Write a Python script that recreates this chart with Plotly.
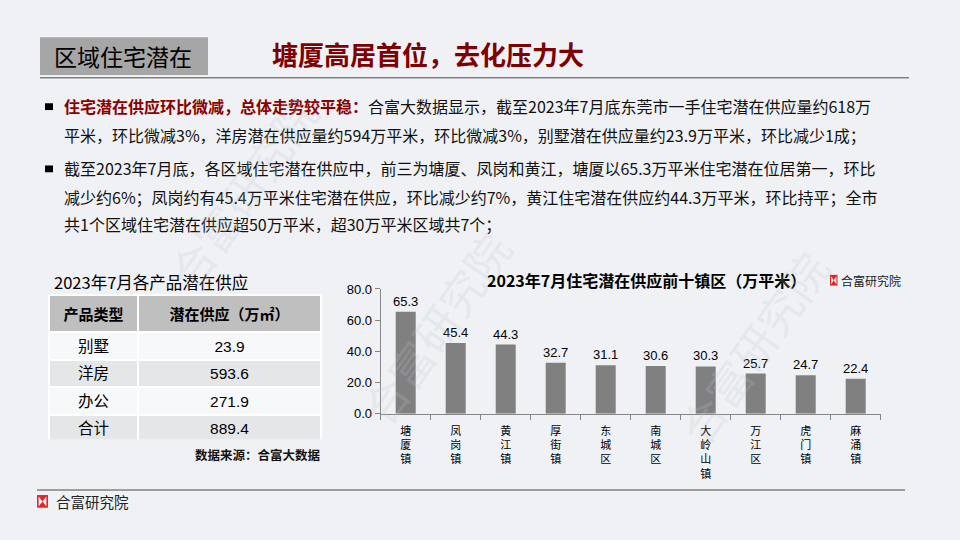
import plotly.graph_objects as go

# ---------------- data ----------------
towns = ["塘厦镇", "凤岗镇", "黄江镇", "厚街镇", "东城区", "南城区", "大岭山镇", "万江区", "虎门镇", "麻涌镇"]
supply_10k_sqm = [65.3, 45.4, 44.3, 32.7, 31.1, 30.6, 30.3, 25.7, 24.7, 22.4]
y_ticks = [0, 20, 40, 60, 80]

product_types = ["别墅", "洋房", "办公", "合计"]
product_supply = [23.9, 593.6, 271.9, 889.4]
table_header = ["产品类型", "潜在供应（万㎡）"]

section_tag = "区域住宅潜在"
headline = "塘厦高居首位，去化压力大"
chart_title = "2023年7月住宅潜在供应前十镇区（万平米）"
table_title = "2023年7月各产品潜在供应"
source_note = "数据来源：合富大数据"
brand = "合富研究院"

bullet1_lead = "住宅潜在供应环比微减，总体走势较平稳："
bullet1_lines = [
    "合富大数据显示，截至2023年7月底东莞市一手住宅潜在供应量约618万",
    "平米，环比微减3%，洋房潜在供应量约594万平米，环比微减3%，别墅潜在供应量约23.9万平米，环比减少1成；",
]
bullet2_lines = [
    "截至2023年7月底，各区域住宅潜在供应中，前三为塘厦、凤岗和黄江，塘厦以65.3万平米住宅潜在位居第一，环比",
    "减少约6%；凤岗约有45.4万平米住宅潜在供应，环比减少约7%，黄江住宅潜在供应约44.3万平米，环比持平；全市",
    "共1个区域住宅潜在供应超50万平米，超30万平米区域共7个；",
]

# ---------------- helpers ----------------
W, H = 960, 540
def X(px):
    return px / W
def Y(py):
    return 1 - py / H

CJK = "Noto Sans CJK SC, Microsoft YaHei, sans-serif"
ARIAL = "Liberation Sans, Arial, Noto Sans CJK SC, sans-serif"
BG = "#eff1f4"

fig = go.Figure()

# bar chart
fig.add_trace(go.Bar(
    x=["<br>".join(list(t)) for t in towns],
    y=supply_10k_sqm,
    marker=dict(color="#808080", line=dict(width=0)),
    text=[f"{v:.1f}" for v in supply_10k_sqm],
    textposition="outside",
    constraintext="none",
    textfont=dict(family=ARIAL, size=13, color="#000000"),
    cliponaxis=False,
    hoverinfo="skip",
))

# table
row_fills = ["#f7f8f9", "#e5e6e8", "#f7f8f9", "#e5e6e8"]
fig.add_trace(go.Table(
    domain=dict(x=[X(49), X(321)], y=[Y(445), Y(296.5)]),
    columnwidth=[89, 183],
    header=dict(
        values=[f"<b>{h}</b>" for h in table_header],
        fill_color="#bfbfbf",
        line=dict(color="#ffffff", width=2),
        align="center",
        height=28,
        font=dict(family=CJK, size=15, color="#000000"),
    ),
    cells=dict(
        values=[product_types, [f"{v:.1f}" for v in product_supply]],
        fill_color=[row_fills, row_fills],
        line=dict(color="#ffffff", width=2),
        align="center",
        height=27.5,
        font=dict(family=ARIAL, size=15.5, color="#000000"),
    ),
))

shapes = []
annotations = []

# header tag box
shapes.append(dict(type="rect", xref="paper", yref="paper",
                   x0=X(40), x1=X(208), y0=Y(70), y1=Y(31),
                   fillcolor="#a6a6a6", line=dict(width=0), layer="below"))
annotations.append(dict(text=section_tag, x=X(123), y=Y(50.5), xref="paper", yref="paper",
                        showarrow=False, xanchor="center", yanchor="middle",
                        font=dict(family=CJK, size=23, color="#000000")))
annotations.append(dict(text=f"<b>{headline}</b>", x=X(270), y=Y(48), xref="paper", yref="paper",
                        showarrow=False, xanchor="left", yanchor="middle",
                        font=dict(family=CJK, size=26, color="#7f0000")))
# header rule
shapes.append(dict(type="line", xref="paper", yref="paper",
                   x0=X(40), x1=X(909), y0=Y(72.7), y1=Y(72.7),
                   line=dict(color="#808080", width=1.5)))

# bullets
for by in (102.5, 166.5):
    shapes.append(dict(type="rect", xref="paper", yref="paper",
                       x0=X(45), x1=X(53), y0=Y(by + 3.5), y1=Y(by - 3.5),
                       fillcolor="#000000", line=dict(width=0)))

line_ys = [102, 131.7, 166, 195, 223]
texts = [
    f"<span style='color:#8b0000'><b>{bullet1_lead}</b></span>{bullet1_lines[0]}",
    bullet1_lines[1],
    bullet2_lines[0],
    bullet2_lines[1],
    bullet2_lines[2],
]
for t, ly in zip(texts, line_ys):
    annotations.append(dict(text=t, x=X(62), y=Y(ly), xref="paper", yref="paper",
                            showarrow=False, xanchor="left", yanchor="middle",
                            font=dict(family=CJK, size=16, color="#111111")))

# table title & source
annotations.append(dict(text=table_title, x=X(52), y=Y(283), xref="paper", yref="paper",
                        showarrow=False, xanchor="left", yanchor="middle",
                        font=dict(family=CJK, size=16.5, color="#000000")))
annotations.append(dict(text=f"<b>{source_note}</b>", x=X(322), y=Y(460), xref="paper", yref="paper",
                        showarrow=False, xanchor="right", yanchor="middle",
                        font=dict(family=CJK, size=12.5, color="#111111")))

# chart title
annotations.append(dict(text=f"<b>{chart_title}</b>", x=X(646), y=Y(281), xref="paper", yref="paper",
                        showarrow=False, xanchor="center", yanchor="middle",
                        font=dict(family=CJK, size=16, color="#000000")))

# logo helper
def logo(x0, y0, w, h):
    out = [dict(type="rect", xref="paper", yref="paper",
                x0=X(x0), x1=X(x0 + w), y0=Y(y0 + h), y1=Y(y0),
                fillcolor="#e0262b", line=dict(width=0))]
    bx = w * 0.15
    by = h * 0.12
    xl, xr = x0 + bx, x0 + w - bx
    yt, yb, ym = y0 + by, y0 + h - by, y0 + h / 2
    xm = x0 + w / 2
    out.append(dict(type="path", xref="paper", yref="paper",
                    path=f"M {X(xl)} {Y(yt)} L {X(xm)} {Y(ym)} L {X(xl)} {Y(yb)} Z",
                    fillcolor="#ffffff", line=dict(width=0)))
    out.append(dict(type="path", xref="paper", yref="paper",
                    path=f"M {X(xr)} {Y(yt)} L {X(xm)} {Y(ym)} L {X(xr)} {Y(yb)} Z",
                    fillcolor="#ffffff", line=dict(width=0)))
    return out

shapes += logo(830, 275.5, 7.5, 11)
annotations.append(dict(text=brand, x=X(839), y=Y(281), xref="paper", yref="paper",
                        showarrow=False, xanchor="left", yanchor="middle",
                        font=dict(family=CJK, size=12, color="#222222")))

# footer
shapes.append(dict(type="line", xref="paper", yref="paper",
                   x0=X(37), x1=X(905), y0=Y(496.7), y1=Y(496.7),
                   line=dict(color="#808080", width=1.5)))
shapes += logo(37, 502, 11, 13)
annotations.append(dict(text=brand, x=X(54), y=Y(509), xref="paper", yref="paper",
                        showarrow=False, xanchor="left", yanchor="middle",
                        font=dict(family=CJK, size=14.5, color="#222222")))

# faint watermarks
for wx, wy in [(435, 330), (845, 350), (150, 190)]:
    annotations.append(dict(text=brand, x=X(wx), y=Y(wy), xref="paper", yref="paper",
                            showarrow=False, textangle=-55,
                            font=dict(family=CJK, size=44, color="rgba(190,196,205,0.22)")))

fig.update_layout(
    width=W, height=H,
    margin=dict(l=0, r=0, t=0, b=0),
    paper_bgcolor=BG, plot_bgcolor="rgba(0,0,0,0)",
    showlegend=False,
    bargap=0.6,
    shapes=shapes,
    annotations=annotations,
    xaxis=dict(
        domain=[X(380.7), X(880.7)],
        type="category",
        tickson="boundaries",
        ticks="outside", ticklen=5, tickcolor="#868686", tickwidth=1,
        ticklabelstandoff=7,
        showline=True, linecolor="#868686", linewidth=1,
        showgrid=False, zeroline=False,
        tickfont=dict(family=CJK, size=11, color="#000000"),
        fixedrange=True,
    ),
    yaxis=dict(
        domain=[Y(418.3), Y(290)],
        range=[0, 80],
        tickvals=y_ticks,
        tickformat=".1f",
        ticks="outside", ticklen=5, tickcolor="#868686", tickwidth=1,
        showline=True, linecolor="#868686", linewidth=1,
        showgrid=False, zeroline=False,
        tickfont=dict(family=ARIAL, size=13, color="#000000"),
        fixedrange=True,
    ),
)

fig.write_html(
    "out.html",
    config={"displayModeBar": False},
    post_script="document.body.style.margin='0';document.body.style.overflow='hidden';",
)
